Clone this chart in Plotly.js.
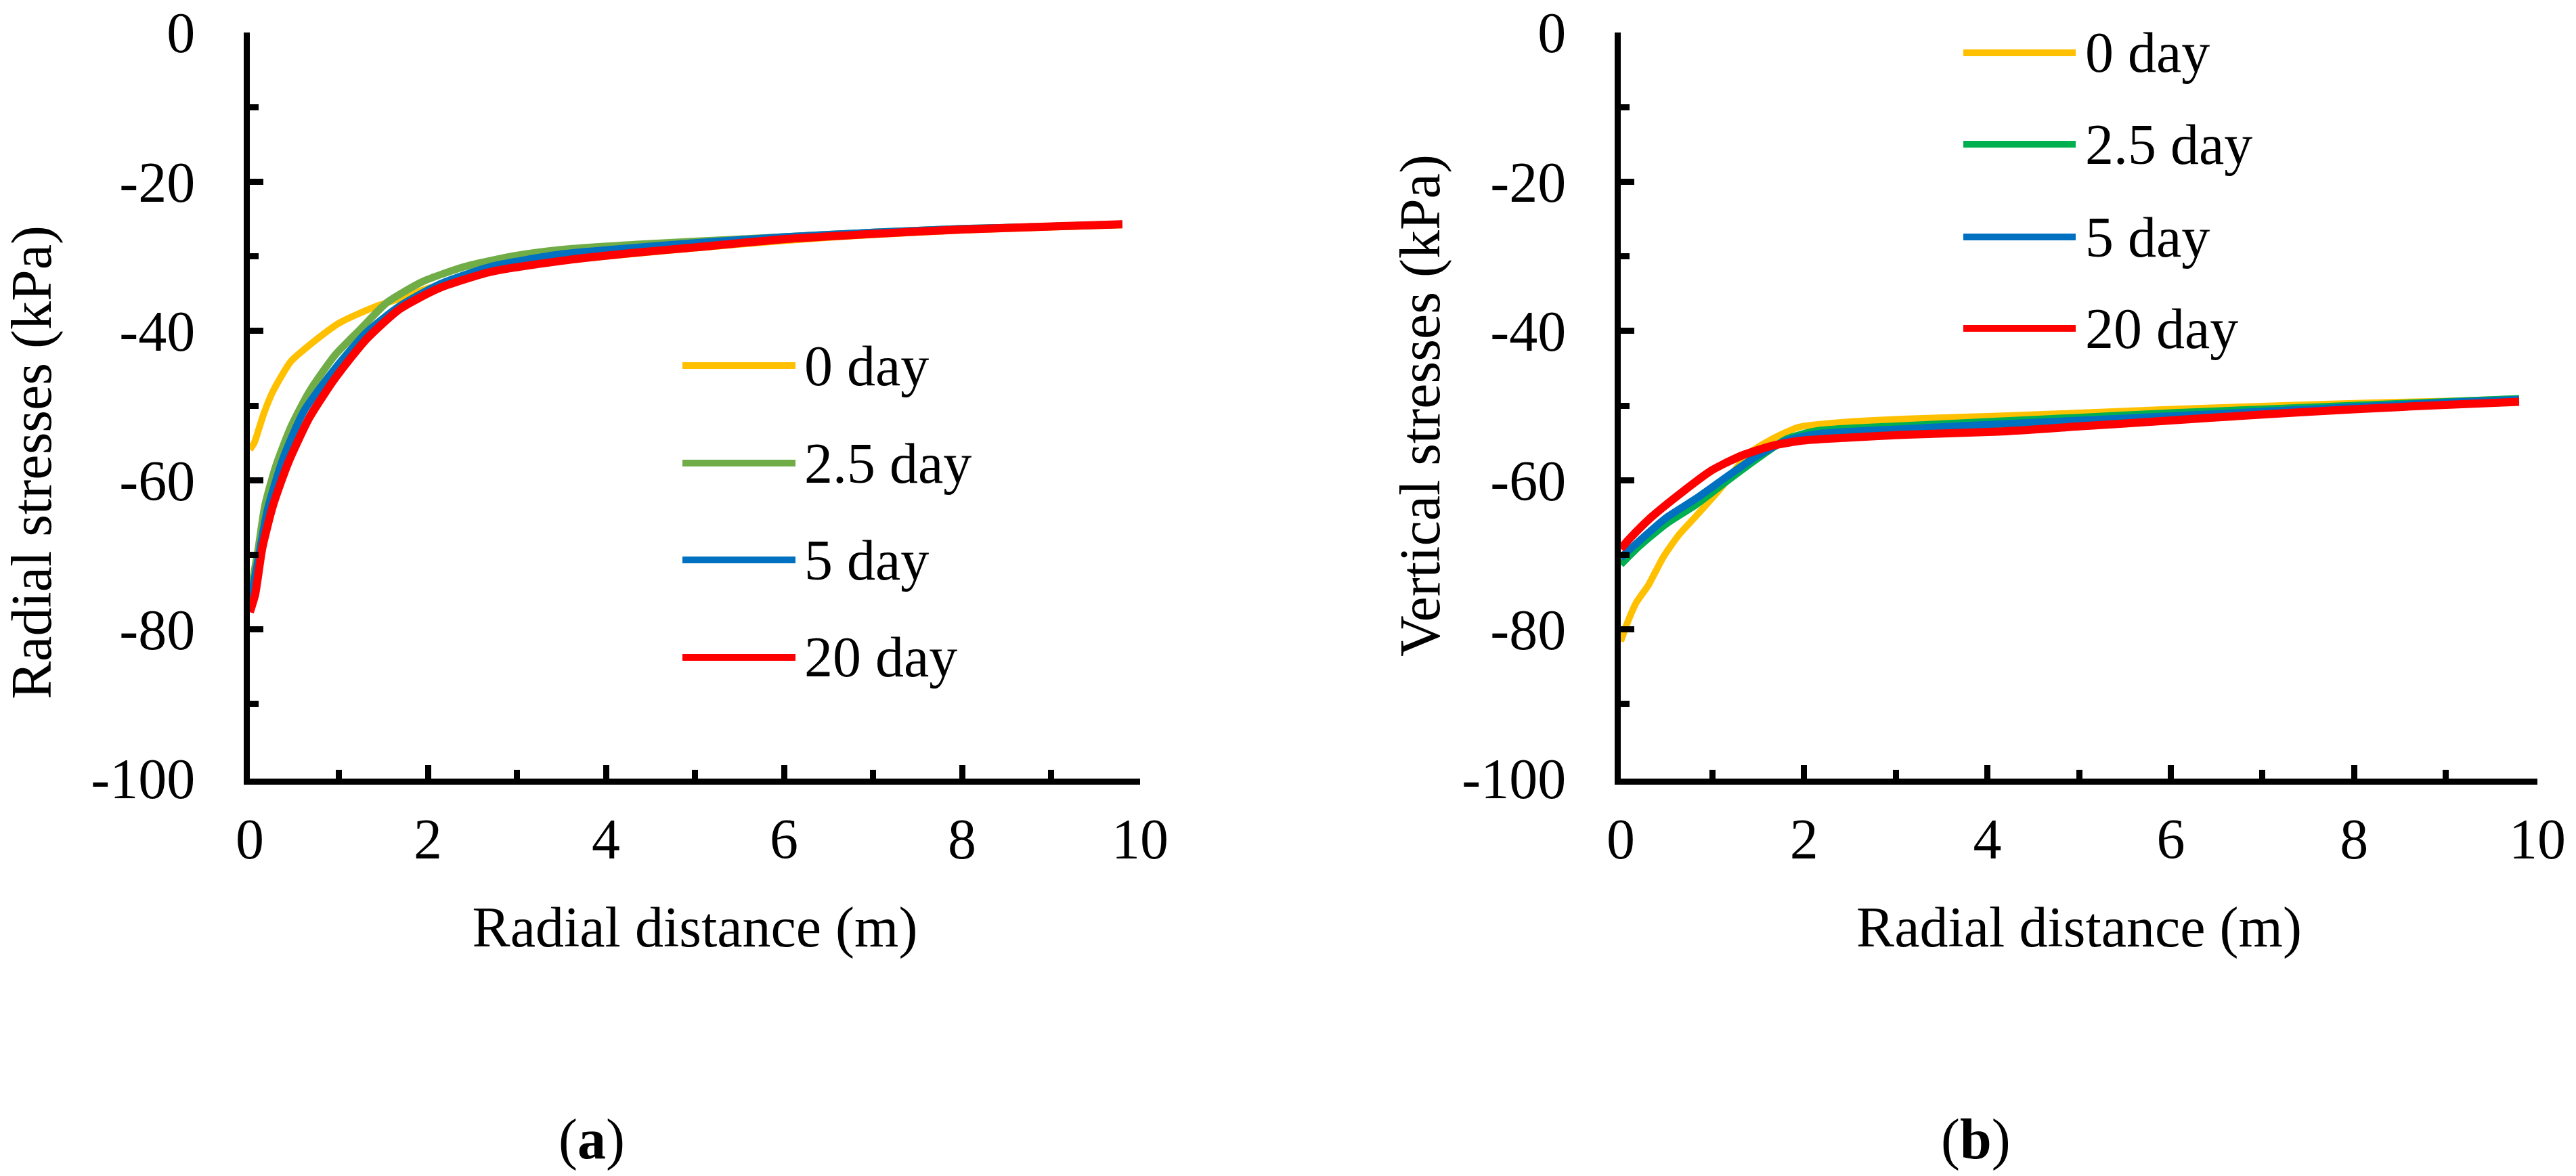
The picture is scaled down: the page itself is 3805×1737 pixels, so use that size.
<!DOCTYPE html>
<html>
<head>
<meta charset="utf-8">
<script src="https://cdn.plot.ly/plotly-3.0.1.min.js"></script>
<style>html,body{margin:0;padding:0;background:#fff;}#chart{width:3805px;height:1737px;}</style>
</head>
<body>
<div id="chart"></div>
<script>
// ---------- data ----------
const seriesNames = ['0 day', '2.5 day', '5 day', '20 day'];

// (a) Radial stresses
const radX_0 = [0, 0.05, 0.1, 0.16, 0.26, 0.46, 0.67, 1.01, 1.42, 1.7, 2.0, 2.5, 3.0, 3.5, 4.35, 5, 6, 7, 8, 9, 9.8];
const radY_0 = [-55.9, -55.0, -53.2, -51.0, -48.1, -44.1, -41.9, -38.9, -36.7, -35.6, -34.3, -32.6, -31.4, -30.6, -29.6, -28.9, -27.9, -27.1, -26.5, -26.1, -25.8];
const radX_25 = [0, 0.09, 0.17, 0.29, 0.46, 0.67, 0.96, 1.24, 1.54, 1.94, 2.41, 2.99, 3.5, 4.35, 5, 6, 7, 8, 9, 9.8];
const radY_25 = [-75.7, -69.6, -63.4, -58.2, -52.9, -48.1, -43.2, -39.8, -36.2, -33.4, -31.4, -29.9, -29.1, -28.4, -28.0, -27.4, -26.8, -26.3, -26.0, -25.7];
const radX_5 = [0, 0.09, 0.2, 0.38, 0.61, 0.96, 1.31, 1.68, 2.12, 2.70, 3.5, 4.35, 5, 6, 7, 8, 9, 9.8];
const radY_5 = [-76.6, -70.9, -63.9, -56.9, -50.7, -45.0, -40.2, -36.7, -33.8, -31.4, -29.7, -28.8, -28.2, -27.4, -26.8, -26.3, -26.0, -25.7];
const radX_20 = [0, 0.06, 0.14, 0.26, 0.43, 0.67, 0.96, 1.31, 1.68, 2.12, 2.70, 3.57, 4.35, 5, 6, 7, 8, 9, 9.8];
const radY_20 = [-77.7, -75.3, -69.1, -63.4, -57.7, -51.6, -46.3, -41.1, -37.1, -34.3, -32.1, -30.5, -29.5, -28.8, -27.7, -27.0, -26.4, -26.0, -25.7];

// (b) Vertical stresses
const verX_0 = [0, 0.07, 0.17, 0.30, 0.46, 0.63, 0.83, 1.09, 1.39, 1.62, 1.94, 2.47, 3.13, 4.12, 5, 6, 7, 8, 9, 9.8];
const verY_0 = [-81.6, -79.2, -76.4, -74.1, -70.4, -67.4, -64.7, -61.1, -56.5, -54.7, -52.9, -52.2, -51.8, -51.4, -51.0, -50.5, -50.1, -49.7, -49.4, -49.1];
const verX_25 = [0, 0.17, 0.49, 0.83, 1.15, 1.48, 1.81, 2.14, 3.13, 4.12, 5, 6, 7, 8, 9, 9.8];
const verY_25 = [-71.3, -69.2, -65.9, -63.2, -60.2, -57.2, -54.5, -53.4, -52.7, -52.1, -51.6, -51.0, -50.5, -50.0, -49.5, -49.1];
const verX_5 = [0, 0.17, 0.49, 0.83, 1.15, 1.48, 1.81, 2.14, 3.13, 4.12, 5, 6, 7, 8, 9, 9.8];
const verY_5 = [-70.4, -68.5, -65.1, -62.4, -59.6, -56.8, -54.7, -53.8, -53.1, -52.5, -52.0, -51.4, -50.8, -50.2, -49.6, -49.2];
const verX_20 = [0, 0.10, 0.33, 0.66, 0.99, 1.32, 1.65, 1.98, 2.47, 3.13, 4.12, 5, 6, 7, 8, 9, 9.8];
const verY_20 = [-69.2, -67.8, -65.0, -61.7, -58.7, -56.7, -55.4, -54.7, -54.3, -53.9, -53.5, -52.8, -52.0, -51.2, -50.5, -49.9, -49.5];

// tick labels
const yTickVals = [-100, -80, -60, -40, -20, 0];
const yTickText = ['-100', '-80', '-60', '-40', '-20', '0'];
const xTickVals = [0, 2, 4, 6, 8, 10];
const xTickText = ['0', '2', '4', '6', '8', '10'];

const xTitle = 'Radial distance (m)';
const yTitleA = 'Radial stresses (kPa)';
const yTitleB = 'Vertical stresses (kPa)';
const panelLabels = ['(<b>a</b>)', '(<b>b</b>)'];

// ---------- styling ----------
const W = 3805, H = 1737;
const FONT = '"Liberation Serif", "Times New Roman", serif';
const FS = 84;
const colorsA = ['#FFC000', '#70AD47', '#0070C0', '#FF0000'];
const colorsB = ['#FFC000', '#00B050', '#0070C0', '#FF0000'];
const widths = [10, 11, 11, 12];
const px = v => v / W;
const py = v => 1 - v / H;

const radX = [radX_0, radX_25, radX_5, radX_20];
const radY = [radY_0, radY_25, radY_5, radY_20];
const verX = [verX_0, verX_25, verX_5, verX_20];
const verY = [verY_0, verY_25, verY_5, verY_20];

const traces = [];
for (let i = 0; i < 4; i++) {
  traces.push({x: radX[i], y: radY[i], name: seriesNames[i], type: 'scatter', mode: 'lines',
    xaxis: 'x', yaxis: 'y', showlegend: false,
    line: {color: colorsA[i], width: widths[i], shape: 'spline', smoothing: 0.6}});
}
for (let i = 0; i < 4; i++) {
  traces.push({x: verX[i], y: verY[i], name: seriesNames[i], type: 'scatter', mode: 'lines',
    xaxis: 'x2', yaxis: 'y2', showlegend: false,
    line: {color: colorsB[i], width: widths[i], shape: 'spline', smoothing: 0.6}});
}

function xAxis(dom, anchor) {
  return {
    domain: dom, anchor: anchor, range: [0, 10], tickmode: 'array', tickvals: xTickVals, ticktext: xTickText,
    showline: true, linewidth: 9, linecolor: '#000', showgrid: false, zeroline: false,
    ticks: 'inside', ticklen: 20, tickwidth: 9, tickcolor: '#000',
    minor: {tickmode: 'linear', tick0: 0, dtick: 1, ticks: 'inside', ticklen: 13, tickwidth: 9, tickcolor: '#000', showgrid: false},
    tickfont: {family: FONT, size: FS, color: '#000'}, ticklabelstandoff: 8,
    title: {text: xTitle, font: {family: FONT, size: FS, color: '#000'}, standoff: 58},
    fixedrange: true
  };
}
function yAxis(dom, anchor, title, standoff) {
  return {
    domain: dom, anchor: anchor, range: [-100, 0], tickmode: 'array', tickvals: yTickVals, ticktext: yTickText,
    showline: true, linewidth: 9, linecolor: '#000', showgrid: false, zeroline: false,
    ticks: 'inside', ticklen: 20, tickwidth: 9, tickcolor: '#000',
    minor: {tickmode: 'linear', tick0: 0, dtick: 10, ticks: 'inside', ticklen: 13, tickwidth: 9, tickcolor: '#000', showgrid: false},
    tickfont: {family: FONT, size: FS, color: '#000'}, ticklabelstandoff: 55,
    title: {text: title, font: {family: FONT, size: FS, color: '#000'}, standoff: standoff},
    fixedrange: true
  };
}

const yDom = [py(1150), py(48)];
const shapes = [], annotations = [];

// legends
const legA = {x0: 1008, x1: 1175, tx: 1186, rows: [540, 684, 827, 971]};
const legB = {x0: 2900, x1: 3066, tx: 3078, rows: [78, 213, 350, 485]};
[[legA, colorsA], [legB, colorsB]].forEach(([lg, cols]) => {
  for (let i = 0; i < 4; i++) {
    shapes.push({type: 'line', xref: 'paper', yref: 'paper', x0: px(lg.x0), x1: px(lg.x1),
      y0: py(lg.rows[i]), y1: py(lg.rows[i]), line: {color: cols[i], width: 10}});
    annotations.push({xref: 'paper', yref: 'paper', x: px(lg.tx), y: py(lg.rows[i]),
      xanchor: 'left', yanchor: 'middle', text: seriesNames[i], showarrow: false,
      font: {family: FONT, size: FS, color: '#000'}});
  }
});
annotations.push({xref: 'paper', yref: 'paper', x: px(874), y: py(1683), xanchor: 'center', yanchor: 'middle',
  text: panelLabels[0], showarrow: false, font: {family: FONT, size: FS, color: '#000'}});
annotations.push({xref: 'paper', yref: 'paper', x: px(2918), y: py(1683), xanchor: 'center', yanchor: 'middle',
  text: panelLabels[1], showarrow: false, font: {family: FONT, size: FS, color: '#000'}});

const layout = {
  width: W, height: H, margin: {l: 0, r: 0, t: 0, b: 0}, paper_bgcolor: '#fff', plot_bgcolor: 'rgba(0,0,0,0)',
  showlegend: false, font: {family: FONT, size: FS, color: '#000'},
  xaxis: xAxis([px(369), px(1684)], 'y'),
  yaxis: yAxis(yDom, 'x', yTitleA + '&nbsp;'.repeat(8), 40),
  xaxis2: xAxis([px(2394), px(3748)], 'y2'),
  yaxis2: yAxis(yDom, 'x2', yTitleB, 8),
  shapes: shapes, annotations: annotations
};

Plotly.newPlot('chart', traces, layout, {staticPlot: true, displayModeBar: false});
</script>
</body>
</html>
